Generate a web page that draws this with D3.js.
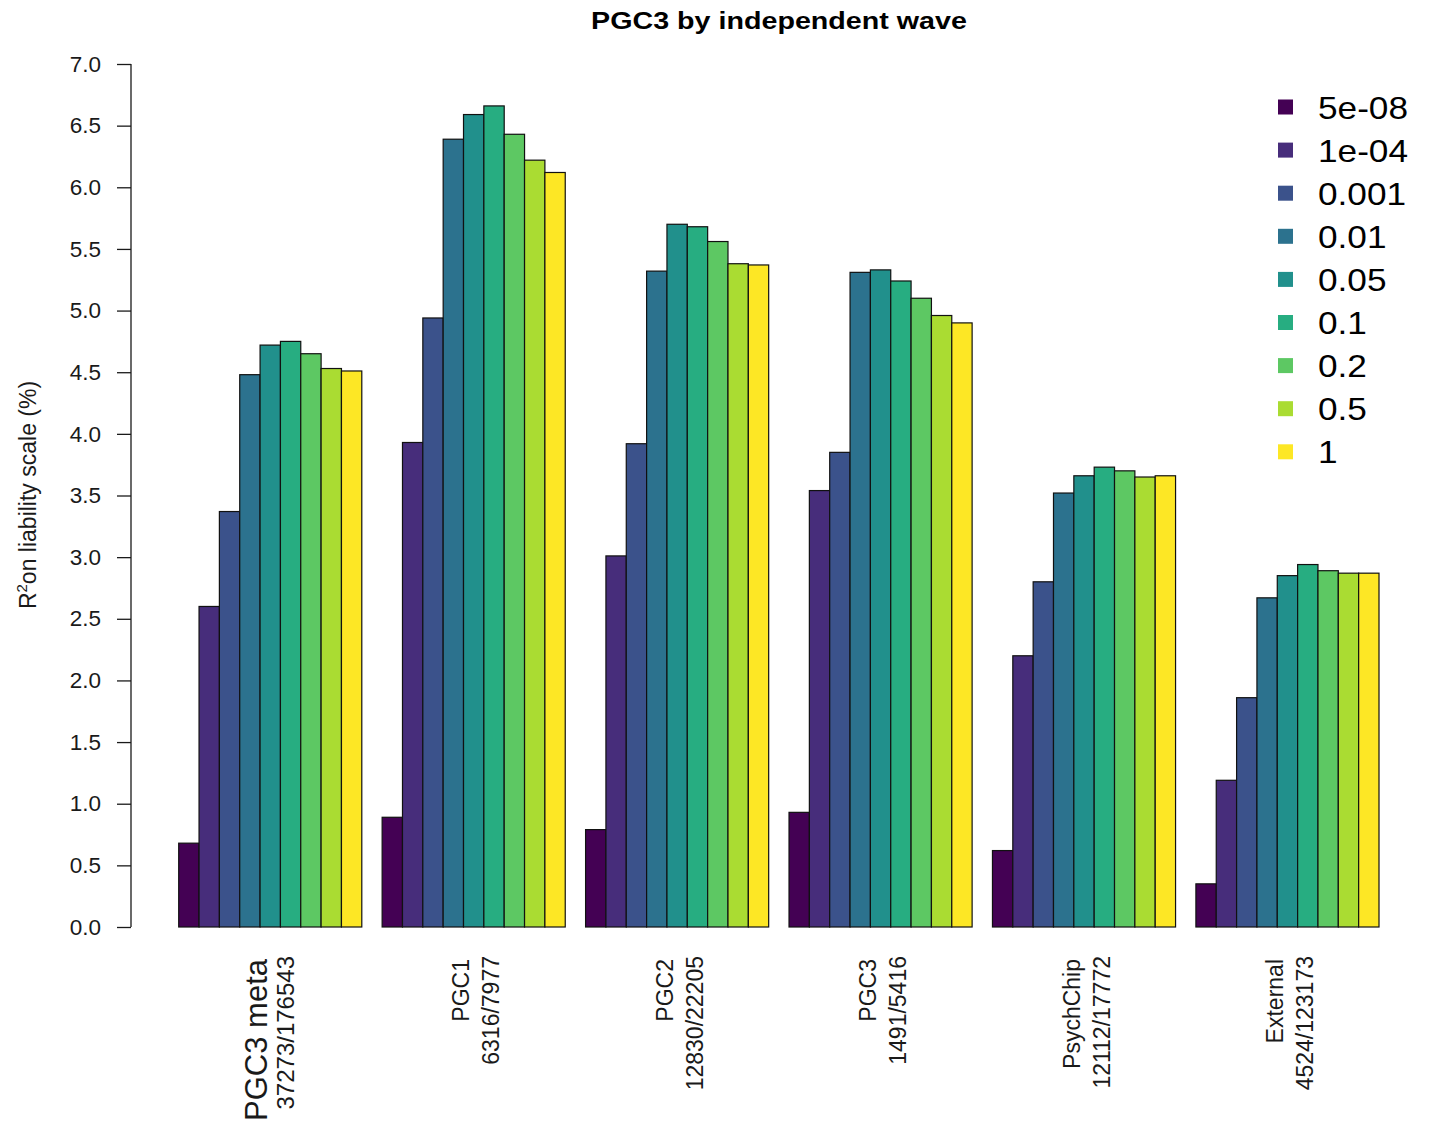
<!DOCTYPE html>
<html>
<head>
<meta charset="utf-8">
<script src="https://cdn.jsdelivr.net/npm/d3@7"></script>
<style>
  html, body { margin: 0; padding: 0; background: #fff; }
  svg { display: block; font-family: "Liberation Sans", Arial, Helvetica, sans-serif; }
</style>
</head>
<body>
<svg id="chart" width="1429" height="1124"></svg>
<script>
// ---- data ----
const groupNames = ["PGC3 meta", "PGC1", "PGC2", "PGC3", "PsychChip", "External"];
const groupCounts = ["37273/176543", "6316/7977", "12830/22205", "1491/5416", "12112/17772", "4524/123173"];
const thresholds = ["5e-08", "1e-04", "0.001", "0.01", "0.05", "0.1", "0.2", "0.5", "1"];
const colors = ["#440154", "#472D7B", "#3B528B", "#2C728E", "#21908C", "#27AD81", "#5DC863", "#AADC32", "#FDE725"];
// values per group, one per threshold (R2 on liability scale, %)
const valsPGC3meta = [0.68, 2.60, 3.37, 4.48, 4.72, 4.75, 4.65, 4.53, 4.51];
const valsPGC1     = [0.89, 3.93, 4.94, 6.39, 6.59, 6.66, 6.43, 6.22, 6.12];
const valsPGC2     = [0.79, 3.01, 3.92, 5.32, 5.70, 5.68, 5.56, 5.38, 5.37];
const valsPGC3     = [0.93, 3.54, 3.85, 5.31, 5.33, 5.24, 5.10, 4.96, 4.90];
const valsPsych    = [0.62, 2.20, 2.80, 3.52, 3.66, 3.73, 3.70, 3.65, 3.66];
const valsExternal = [0.35, 1.19, 1.86, 2.67, 2.85, 2.94, 2.89, 2.87, 2.87];
const yTicks = [0, 0.5, 1, 1.5, 2, 2.5, 3, 3.5, 4, 4.5, 5, 5.5, 6, 6.5, 7];
const titleText = "PGC3 by independent wave";

const allVals = [valsPGC3meta, valsPGC1, valsPGC2, valsPGC3, valsPsych, valsExternal];

const svg = d3.select("#chart");
const ink = "#1a1a1a";

// scales (x in R barplot units: group g, bar j starts at 1 + 10g + j)
const x = d3.scaleLinear().domain([1, 60]).range([178.7, 1379]);
const y = d3.scaleLinear().domain([0, 7]).range([927, 64]);

// bars
const bars = [];
allVals.forEach((vals, g) => vals.forEach((v, j) => bars.push({g, j, v})));
svg.append("g").selectAll("rect").data(bars).enter().append("rect")
  .attr("x", d => x(1 + d.g * 10 + d.j))
  .attr("width", d => x(2 + d.g * 10 + d.j) - x(1 + d.g * 10 + d.j))
  .attr("y", d => y(d.v))
  .attr("height", d => y(0) - y(d.v))
  .attr("fill", d => colors[d.j])
  .attr("stroke", "#111")
  .attr("stroke-width", 1.2);

// y axis
const yAxis = d3.axisLeft(y).tickValues(yTicks).tickFormat(d3.format(".1f")).tickSize(14).tickPadding(16);
const ya = svg.append("g").attr("transform", "translate(131,0)").call(yAxis);
ya.select(".domain").attr("d", `M0,${y(0)}V${y(7)}`).attr("stroke", ink).attr("stroke-width", 1.3);
ya.selectAll(".tick line").attr("stroke", ink).attr("stroke-width", 1.3);
ya.selectAll(".tick text").attr("font-size", 22.5).attr("fill", ink)
  .attr("font-family", "Liberation Sans, Arial, sans-serif");

// y label
const yl = svg.append("text")
  .attr("transform", "translate(36,495) rotate(-90)")
  .attr("text-anchor", "middle")
  .attr("font-size", 23)
  .attr("fill", ink);
yl.append("tspan").text("R");
yl.append("tspan").attr("dy", -9).attr("font-size", 15).text("2");
yl.append("tspan").attr("dy", 9).text("on liability scale (%)");

// title
svg.append("text")
  .attr("transform", "translate(779,29) scale(1.17,1)")
  .attr("text-anchor", "middle")
  .attr("font-weight", "bold")
  .attr("font-size", 24.5)
  .attr("fill", "#000")
  .text(titleText);

// x labels (two lines, rotated)
groupNames.forEach((name, g) => {
  const cx = x(5.5 + g * 10);
  const first = g === 0;
  svg.append("text")
    .attr("transform", `translate(${cx - (first ? 3.5 : 4.5)},959) rotate(-90)`)
    .attr("text-anchor", "end")
    .attr("font-size", first ? 31 : 23)
    .attr("fill", ink)
    .text(name);
  svg.append("text")
    .attr("transform", `translate(${cx + (first ? 24 : 25.5)},956) rotate(-90)`)
    .attr("text-anchor", "end")
    .attr("font-size", first ? 24 : 23)
    .attr("fill", ink)
    .text(groupCounts[g]);
});

// legend
const leg = svg.append("g");
thresholds.forEach((t, i) => {
  const cy = 107 + i * 43.1;
  leg.append("rect")
    .attr("x", 1278).attr("y", cy - 7.5)
    .attr("width", 15).attr("height", 15)
    .attr("fill", colors[i]);
  leg.append("text")
    .attr("transform", `translate(1318,${cy + 11.5}) scale(1.1,1)`)
    .attr("font-size", 32)
    .attr("fill", "#000")
    .text(t);
});
</script>
</body>
</html>
